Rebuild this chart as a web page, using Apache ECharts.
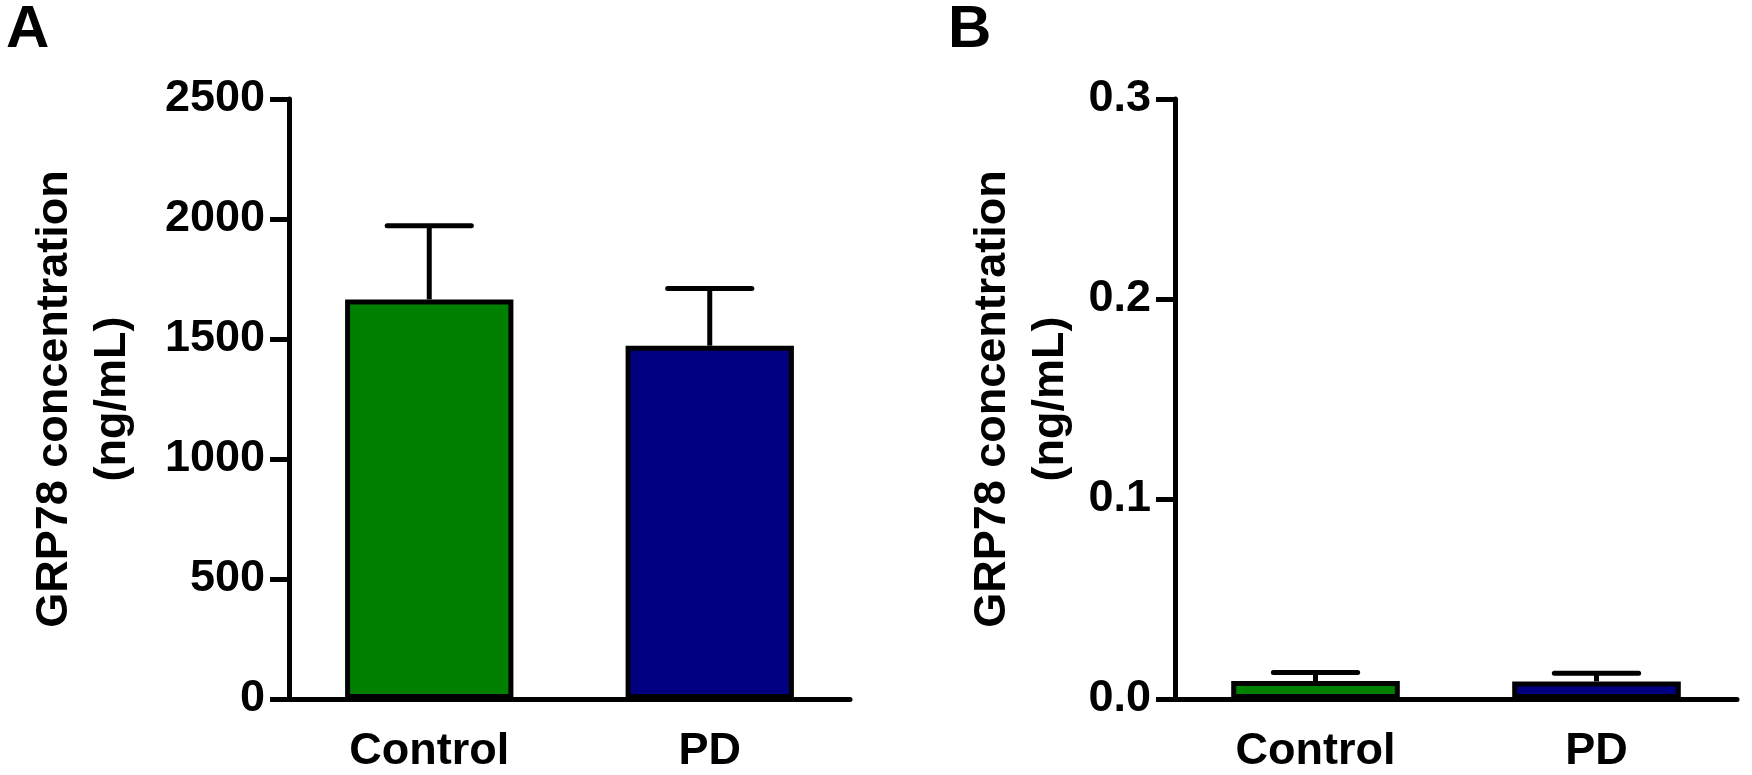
<!DOCTYPE html>
<html>
<head>
<meta charset="utf-8">
<script src="https://cdn.jsdelivr.net/npm/echarts@6/dist/echarts.min.js"></script>
<style>
  html, body { margin: 0; padding: 0; background: #fff; }
  #chart { width: 1752px; height: 775px; }
</style>
</head>
<body>
<div id="chart"></div>
<script>
// groups on the x axis
var categories = ['Control', 'PD']
var barColors = ['#008000', '#000080']

// panel A: mean and upper error (SEM)
var meanA = [1665, 1472]
var semA = [307, 238]
var ticksA = { min: 0, max: 2500, interval: 500 }

// panel B
var meanB = [0.009, 0.0088]
var semB = [0.0042, 0.0041]
var ticksB = { min: 0, max: 0.3, interval: 0.1 }

var yTitle = 'GRP78 concentration\n(ng/mL)'

var FONT = '"Liberation Sans", Arial, sans-serif'
var LW = 5

function barData (means) {
  return means.map(function (v, i) {
    return { value: v, itemStyle: { color: barColors[i] } }
  })
}

function errData (means, sems) {
  return means.map(function (v, i) {
    return [i, v, v + sems[i]]
  })
}

function renderErr (params, api) {
  var x = api.value(0)
  var base = api.coord([x, api.value(1)])
  var top = api.coord([x, api.value(2)])
  var half = api.size([1, 0])[0] * 0.6 * 0.25
  return {
    type: 'group',
    children: [
      {
        type: 'line',
        shape: { x1: base[0], y1: base[1], x2: top[0], y2: top[1] },
        style: { stroke: '#000', lineWidth: LW }
      },
      {
        type: 'line',
        shape: { x1: top[0] - half, y1: top[1], x2: top[0] + half, y2: top[1] },
        style: { stroke: '#000', lineWidth: LW, lineCap: 'round' }
      }
    ]
  }
}

function xAxisOpt (gridIndex) {
  return {
    type: 'category',
    gridIndex: gridIndex,
    data: categories,
    axisLine: { lineStyle: { color: '#000', width: LW } },
    axisTick: { alignWithLabel: true, length: 19, lineStyle: { color: '#000', width: LW } },
    axisLabel: { color: '#000', fontSize: 45, fontWeight: 'bold', fontFamily: FONT, margin: 30 }
  }
}

function yAxisOpt (gridIndex, t, gap, digits) {
  return {
    type: 'value',
    gridIndex: gridIndex,
    min: t.min,
    max: t.max,
    interval: t.interval,
    name: yTitle,
    nameLocation: 'middle',
    nameRotate: 90,
    nameGap: gap,
    nameTextStyle: { color: '#000', fontSize: 45, fontWeight: 'bold', fontFamily: FONT, lineHeight: 58 },
    axisLine: { show: true, lineStyle: { color: '#000', width: LW } },
    axisTick: { show: true, length: 19, lineStyle: { color: '#000', width: LW } },
    splitLine: { show: false },
    axisLabel: {
      color: '#000', fontSize: 45, fontWeight: 'bold', fontFamily: FONT, margin: 24,
      formatter: function (v) { return v.toFixed(digits) }
    }
  }
}

var chart = echarts.init(document.getElementById('chart'))
chart.setOption({
  animation: false,
  backgroundColor: '#fff',
  graphic: [
    { type: 'text', left: 6, top: 0, style: { text: 'A', fontSize: 60, fontWeight: 'bold', fontFamily: FONT, fill: '#000' } },
    { type: 'text', left: 948, top: 0, style: { text: 'B', fontSize: 60, fontWeight: 'bold', fontFamily: FONT, fill: '#000' } }
  ],
  grid: [
    { left: 289, right: 902, top: 99, bottom: 76 },
    { left: 1175, right: 15, top: 99, bottom: 76 }
  ],
  xAxis: [xAxisOpt(0), xAxisOpt(1)],
  yAxis: [yAxisOpt(0, ticksA, 147, 0), yAxisOpt(1, ticksB, 95, 1)],
  series: [
    {
      type: 'bar', xAxisIndex: 0, yAxisIndex: 0, barWidth: '60%',
      itemStyle: { borderColor: '#000', borderWidth: LW },
      data: barData(meanA)
    },
    {
      type: 'custom', xAxisIndex: 0, yAxisIndex: 0, z: 3,
      renderItem: renderErr, encode: { x: 0, y: [1, 2] },
      data: errData(meanA, semA)
    },
    {
      type: 'bar', xAxisIndex: 1, yAxisIndex: 1, barWidth: '60%',
      itemStyle: { borderColor: '#000', borderWidth: LW },
      data: barData(meanB)
    },
    {
      type: 'custom', xAxisIndex: 1, yAxisIndex: 1, z: 3,
      renderItem: renderErr, encode: { x: 0, y: [1, 2] },
      data: errData(meanB, semB)
    }
  ]
})
</script>
</body>
</html>
